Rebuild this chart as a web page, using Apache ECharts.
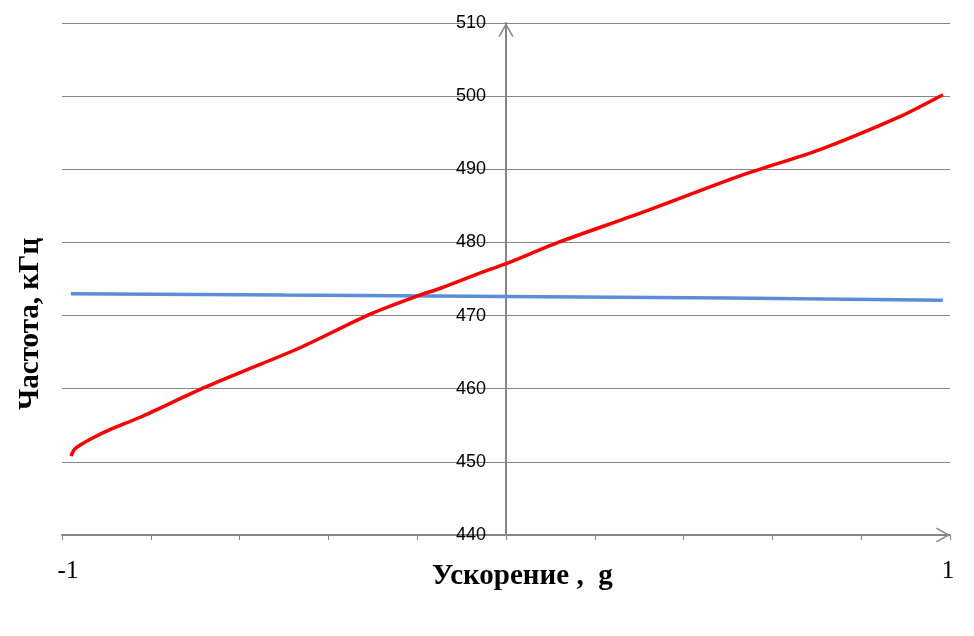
<!DOCTYPE html>
<html>
<head>
<meta charset="utf-8">
<script src="https://cdn.jsdelivr.net/npm/echarts@6/dist/echarts.min.js"></script>
<style>html,body{margin:0;padding:0;background:#fff}#c{width:974px;height:636px}</style>
</head>
<body>
<div id="c"></div>
<script>
// Data
var redX = [-0.980, -0.972, -0.959, -0.930, -0.892, -0.824, -0.689, -0.599, -0.464, -0.306, -0.194, -0.149, -0.059, 0.000, 0.122, 0.302, 0.527, 0.707, 0.887, 0.984];
var redY = [450.8, 451.7, 452.3, 453.3, 454.4, 456.1, 459.9, 462.2, 465.6, 470.2, 472.8, 473.7, 475.8, 477.1, 480.1, 484.0, 489.1, 492.7, 497.2, 500.2];
var blueX = [-0.980, -0.500, 0.000, 0.500, 0.984];
var blueY = [473.0, 472.8, 472.6, 472.4, 472.1];
var yTicks = [440, 450, 460, 470, 480, 490, 500, 510];
var xLabels = ['-1', '1'];
var xTitle = 'Ускорение ,  g';
var yTitle = 'Частота, кГц';

function pairs(xs, ys) { return xs.map(function (x, i) { return [x, ys[i]]; }); }

var chevron = 'path://M0,14 L8,0 L16,14 L14.6,14.8 L8,3.2 L1.4,14.8 Z';
var chart = echarts.init(document.getElementById('c'), null, { renderer: 'canvas' });
chart.setOption({
  animation: false,
  backgroundColor: '#ffffff',
  grid: { left: 62, right: 24, top: 23, bottom: 101, containLabel: false },
  xAxis: {
    type: 'value', min: -1, max: 1, interval: 0.2,
    axisLine: { show: true, onZero: false, lineStyle: { color: '#868686', width: 2 },
      symbol: ['none', chevron], symbolSize: [16, 14], symbolOffset: [0, -7] },
    axisTick: { show: true, length: 5, lineStyle: { color: '#868686', width: 1 } },
    splitLine: { show: false },
    axisLabel: {
      margin: 24, color: '#000', fontFamily: 'Liberation Serif', fontSize: 25,
      showMinLabel: true, showMaxLabel: true,
      formatter: function (v) {
        if (Math.abs(v + 1) < 1e-9) return '{a|' + xLabels[0] + '}';
        if (Math.abs(v - 1) < 1e-9) return '{b|' + xLabels[1] + '}';
        return '';
      },
      rich: {
        a: { fontFamily: 'Liberation Serif', fontSize: 25, color: '#000', padding: [0, 0, 0, 12] },
        b: { fontFamily: 'Liberation Serif', fontSize: 25, color: '#000', padding: [0, 4, 0, 0] }
      }
    }
  },
  yAxis: {
    type: 'value', min: yTicks[0], max: yTicks[yTicks.length - 1], interval: 10,
    position: 'left', offset: -444,
    axisLine: { show: true, onZero: false, lineStyle: { color: '#868686', width: 2 },
      symbol: ['none', chevron], symbolSize: [16, 14], symbolOffset: [0, -7] },
    axisTick: { show: false },
    splitLine: { show: true, lineStyle: { color: '#868686', width: 1 } },
    axisLabel: { margin: 20, color: '#000', fontFamily: 'Liberation Sans', fontSize: 18 }
  },
  graphic: [
    { type: 'text', left: 432, top: 562, style: { text: xTitle, font: 'bold 29px "Liberation Serif"', fill: '#000' } },
    { type: 'text', x: 16, y: 410, rotation: Math.PI / 2,
      style: { text: yTitle, font: 'bold 29px "Liberation Serif"', fill: '#000', textAlign: 'left', textVerticalAlign: 'top' } }
  ],
  series: [
    { type: 'line', data: pairs(blueX, blueY), smooth: true, showSymbol: false,
      lineStyle: { color: '#5A8ED8', width: 3.5 }, z: 3 },
    { type: 'line', data: pairs(redX, redY), smooth: 0.25, showSymbol: false,
      lineStyle: { color: '#FF0000', width: 3.5 }, z: 4 }
  ]
});
</script>
</body>
</html>
